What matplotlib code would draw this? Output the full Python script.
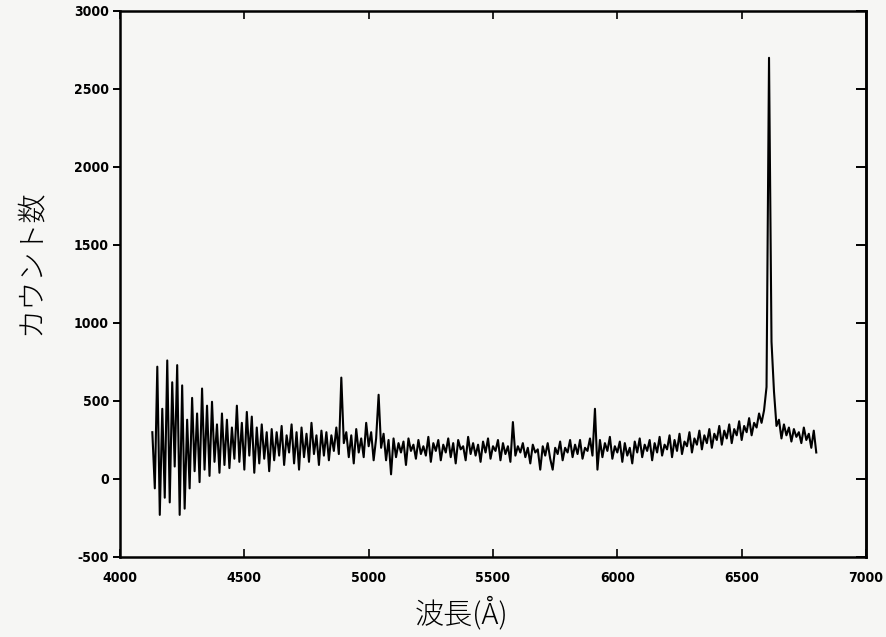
#!/usr/bin/env python3

import matplotlib
matplotlib.use("Agg")
import matplotlib.pyplot as plt
import numpy as np

# wavelength grid (Angstrom), 10 A steps
wl_start = 4130
wl_step = 10

counts = [
    # 4130-4220
    300, -60, 720, -230, 450, -120, 760, -150, 620, 80,
    # 4230-4320
    730, -230, 600, -190, 380, -60, 520, 50, 420, -20,
    # 4330-4420
    580, 60, 470, 20, 495, 110, 350, 40, 420, 90,
    # 4430-4520
    380, 70, 330, 130, 470, 110, 360, 60, 430, 150,
    # 4530-4620
    400, 40, 330, 100, 350, 130, 300, 50, 320, 120,
    # 4630-4720
    300, 150, 340, 90, 280, 170, 350, 100, 300, 60,
    # 4730-4820
    330, 140, 290, 110, 360, 160, 280, 90, 310, 150,
    # 4830-4920
    300, 120, 280, 180, 330, 160, 650, 230, 300, 140,
    # 4930-5020
    280, 100, 320, 170, 260, 140, 360, 210, 300, 120,
    # 5030-5120
    260, 540, 200, 290, 120, 250, 30, 260, 140, 230,
    # 5130-5220
    170, 240, 90, 260, 180, 220, 130, 250, 160, 210,
    # 5230-5320
    150, 270, 110, 230, 180, 250, 120, 220, 170, 260,
    # 5330-5420
    140, 230, 100, 250, 190, 210, 120, 270, 160, 230,
    # 5430-5520
    150, 220, 110, 240, 170, 260, 130, 210, 180, 250,
    # 5530-5620
    120, 230, 160, 210, 110, 365, 150, 210, 170, 230,
    # 5630-5720
    140, 200, 100, 220, 170, 190, 60, 210, 150, 230,
    # 5730-5820
    130, 60, 200, 160, 240, 120, 200, 170, 250, 140,
    # 5830-5920
    220, 160, 250, 130, 200, 180, 260, 150, 450, 60,
    # 5930-6020
    250, 140, 230, 180, 270, 130, 210, 170, 240, 110,
    # 6030-6120
    230, 150, 200, 100, 240, 170, 260, 140, 220, 180,
    # 6130-6220
    250, 120, 230, 170, 270, 150, 220, 190, 280, 140,
    # 6230-6320
    250, 180, 290, 160, 240, 210, 300, 170, 260, 220,
    # 6330-6420
    310, 190, 280, 230, 320, 200, 290, 250, 340, 220,
    # 6430-6520
    310, 260, 350, 230, 320, 280, 370, 250, 340, 300,
    # 6530-6620
    390, 280, 360, 330, 420, 360, 440, 590, 2700, 880,
    # 6630-6720
    560, 340, 380, 260, 350, 280, 330, 240, 320, 270,
    # 6730-6800
    300, 230, 330, 250, 290, 200, 310, 170,
]

wavelength = wl_start + wl_step * np.arange(len(counts))

x_ticks = [4000, 4500, 5000, 5500, 6000, 6500, 7000]
y_ticks = [-500, 0, 500, 1000, 1500, 2000, 2500, 3000]

xlabel = "波長(Å)"
ylabel = "カウント数"

plt.rcParams['axes.unicode_minus'] = False
cjk = ['Noto Sans CJK JP', 'DejaVu Sans']

fig = plt.figure(figsize=(8.86, 6.37), dpi=100, facecolor='#f6f6f4')
ax = fig.add_axes([120 / 886, 1 - 557 / 637, (866 - 120) / 886, (557 - 11) / 637])
ax.set_facecolor('#f6f6f4')

ax.plot(wavelength, counts, color='black', lw=1.5)

ax.set_xlim(4000, 7000)
ax.set_ylim(-500, 3000)
ax.set_xticks(x_ticks)
ax.set_yticks(y_ticks)

for s in ax.spines.values():
    s.set_linewidth(1.8)

ax.tick_params(axis='y', which='major', direction='out', length=5, width=1.4,
               left=True, right=False, pad=3)
ax.tick_params(axis='x', which='major', direction='in', length=6, width=1.2,
               top=True, bottom=True, pad=10)
# right side ticks point inward, no labels
ay = ax.secondary_yaxis('right')
ay.set_yticks(y_ticks)
ay.tick_params(direction='in', length=7, width=1.4, labelright=False)
ay.spines['right'].set_linewidth(1.8)

for lab in ax.get_xticklabels() + ax.get_yticklabels():
    lab.set_family('DejaVu Sans')
    lab.set_stretch('condensed')
    lab.set_fontweight('bold')
    lab.set_fontsize(10)

ax.set_xlabel(xlabel, family=cjk, fontsize=21, fontweight='light')
ax.set_ylabel(ylabel, family=cjk, fontsize=21, fontweight='light')
ax.xaxis.set_label_coords(0.458, -0.073)
ax.yaxis.set_label_coords(-0.099, 0.54)

fig.savefig('out.png', dpi=100, facecolor=fig.get_facecolor())
